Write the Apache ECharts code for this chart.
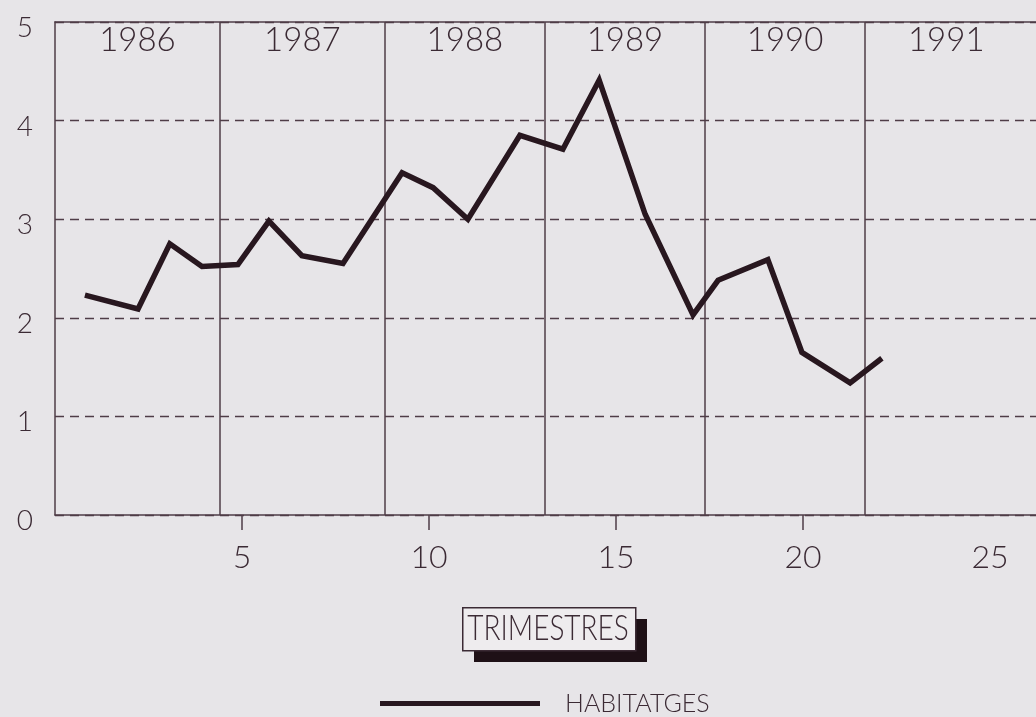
<!DOCTYPE html>
<html>
<head>
<meta charset="utf-8">
<script src="https://cdn.jsdelivr.net/npm/echarts@6/dist/echarts.min.js"></script>
<style>
html,body{margin:0;padding:0;background:#e7e5e8;}
#chart{width:1036px;height:717px;}
</style>
</head>
<body>
<div id="chart"></div>
<script>
// Quarterly positions on the TRIMESTRES axis (as drawn) and housing values
const quarterPos = [0.80, 2.22, 3.07, 3.93, 4.89, 5.72, 6.60, 7.70, 9.28, 10.11, 11.04,
                    12.43, 13.58, 14.55, 15.78, 17.06, 17.73, 19.06, 19.97, 21.26, 22.11];
const habitatges = [2.23, 2.09, 2.75, 2.52, 2.54, 2.98, 2.63, 2.55, 3.47, 3.32, 3.00,
                    3.85, 3.71, 4.41, 3.05, 2.03, 2.38, 2.59, 1.65, 1.34, 1.59];
const years = ['1986', '1987', '1988', '1989', '1990', '1991'];
const yearBounds = [0, 4.41, 8.82, 13.10, 17.38, 21.66, 26.0];
const xTickValues = [5, 10, 15, 20];
const xLabelValues = [5, 10, 15, 20, 25];
const seriesName = 'HABITATGES';
const axisTitle = 'TRIMESTRES';

const ink = '#3b2a34';
const gridInk = '#4f3d47';
const font = 'Lato';

const chart = echarts.init(document.getElementById('chart'));

const lineData = quarterPos.map((q, i) => [q, habitatges[i]]);
const yearAreas = years.map((y, i) => [
  { xAxis: yearBounds[i], name: y },
  { xAxis: yearBounds[i + 1] }
]);
const yearLines = yearBounds.slice(1, years.length).map(v => ({ xAxis: v }));

chart.setOption({
  backgroundColor: '#e7e5e8',
  animation: false,
  grid: { left: 55, right: 0, top: 22, bottom: 202, containLabel: false },
  xAxis: [{
    type: 'value',
    min: 0,
    max: 26.23,
    axisLine: { show: true, lineStyle: { color: gridInk, width: 1.5 } },
    axisTick: { show: true, customValues: xTickValues, length: 15, lineStyle: { color: gridInk, width: 1.5 } },
    axisLabel: { customValues: xLabelValues, margin: 27, fontSize: 32, fontFamily: font, fontWeight: 300, color: ink },
    splitLine: { show: false }
  }, {
    type: 'value',
    position: 'top',
    min: 0,
    max: 26.23,
    axisLine: { show: true, lineStyle: { color: gridInk, width: 1.5 } },
    axisTick: { show: false },
    axisLabel: { show: false },
    splitLine: { show: false }
  }],
  yAxis: {
    type: 'value',
    min: 0,
    max: 5,
    interval: 1,
    axisLine: { show: true, lineStyle: { color: gridInk, width: 1.5 } },
    axisTick: { show: false },
    axisLabel: {
      margin: 22,
      formatter: v => '{a|' + v + '}',
      rich: { a: { fontSize: 28, fontFamily: font, fontWeight: 300, color: ink, padding: [12, 0, 0, 0] } }
    },
    splitLine: { show: true, lineStyle: { color: gridInk, width: 1.4, type: [9, 6] } }
  },
  legend: {
    data: [seriesName],
    left: 380,
    top: 691,
    padding: 0,
    icon: 'rect',
    itemWidth: 160,
    itemHeight: 5,
    textStyle: { fontSize: 25, fontFamily: font, fontWeight: 300, color: ink, padding: [10, 0, 0, 20] }
  },
  graphic: [
    { type: 'rect', left: 474, top: 619, shape: { width: 173, height: 43 }, style: { fill: '#1e1016' }, z: 10 },
    { type: 'rect', left: 462, top: 607, shape: { width: 173, height: 43 }, style: { fill: '#eeecee', stroke: ink, lineWidth: 1.5 }, z: 11 },
    { type: 'text', x: 548, y: 629, scaleX: 0.8, z: 12,
      style: { text: axisTitle, fontSize: 35, fontFamily: font, fontWeight: 300, fill: ink, textAlign: 'center', textVerticalAlign: 'middle' } }
  ],
  series: [{
    name: seriesName,
    type: 'line',
    data: lineData,
    symbol: 'none',
    color: '#28171f',
    lineStyle: { width: 5.5, color: '#28171f', join: 'miter' },
    z: 5,
    markLine: {
      silent: true,
      symbol: 'none',
      label: { show: false },
      lineStyle: { type: 'solid', color: gridInk, width: 1.5 },
      data: yearLines
    },
    markArea: {
      silent: true,
      itemStyle: { color: 'rgba(0,0,0,0)' },
      label: { show: true, position: 'insideTop', distance: 2, fontSize: 33, fontFamily: font, fontWeight: 300, color: ink },
      data: yearAreas
    }
  }]
});
</script>
</body>
</html>
